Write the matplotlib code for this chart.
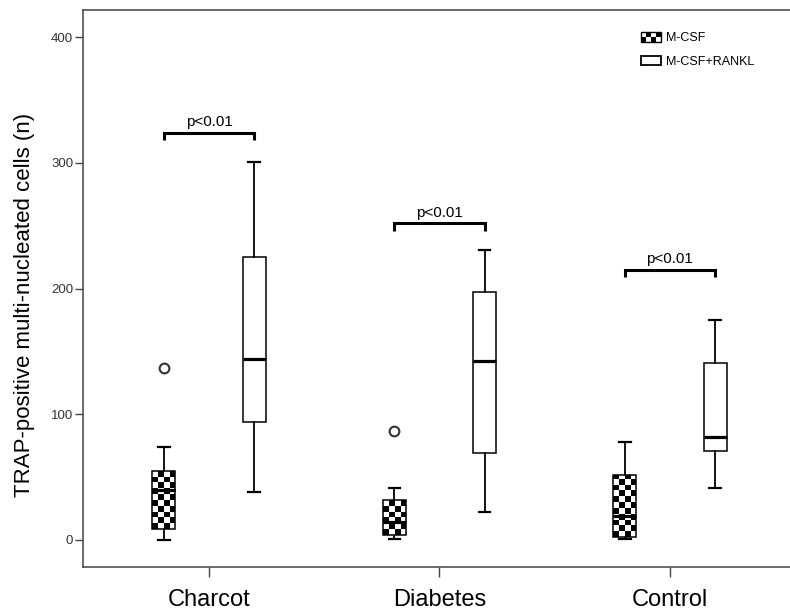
import numpy as np
import matplotlib.pyplot as plt
from matplotlib.patches import Rectangle
from matplotlib.legend_handler import HandlerBase

plt.rcParams['font.family'] = ['Liberation Sans', 'DejaVu Sans']

groups = ['Charcot', 'Diabetes', 'Control']

# M-CSF: whisker low, Q1, median, Q3, whisker high, outliers
mcsf_whislo = [0, 1, 1]
mcsf_q1 = [9, 4, 2]
mcsf_med = [40, 14, 19]
mcsf_q3 = [55, 32, 52]
mcsf_whishi = [74, 41, 78]
mcsf_fliers = [[137], [87], []]

# M-CSF+RANKL
rankl_whislo = [38, 22, 41]
rankl_q1 = [94, 69, 71]
rankl_med = [144, 142, 82]
rankl_q3 = [225, 197, 141]
rankl_whishi = [301, 231, 175]
rankl_fliers = [[], [], []]

bracket_y = [324, 252, 215]
p_text = ['p<0.01', 'p<0.01', 'p<0.01']

offset = 0.196
box_w = 0.1


def make_stats(lo, q1, med, q3, hi, fl):
    return [dict(whislo=a, q1=b, med=c, q3=d, whishi=e, fliers=f)
            for a, b, c, d, e, f in zip(lo, q1, med, q3, hi, fl)]


fig = plt.figure(figsize=(7.9, 6.14), dpi=100)
ax = fig.add_axes([83 / 790, 47 / 614, 713 / 790, 557 / 614])
ax.set_xlim(-0.547, 2.547)
ax.set_ylim(-21.5, 421.5)

x = np.arange(len(groups))
common = dict(widths=box_w, patch_artist=True, showfliers=True,
              boxprops=dict(edgecolor='black', linewidth=1.1),
              whiskerprops=dict(color='black', linewidth=1.3),
              capprops=dict(color='black', linewidth=1.6),
              medianprops=dict(color='black', linewidth=2.3),
              flierprops=dict(marker='o', markersize=7, markerfacecolor='white',
                              markeredgecolor='#333333', markeredgewidth=1.5))

b1 = ax.bxp(make_stats(mcsf_whislo, mcsf_q1, mcsf_med, mcsf_q3, mcsf_whishi, mcsf_fliers),
            positions=x - offset, **common)
b2 = ax.bxp(make_stats(rankl_whislo, rankl_q1, rankl_med, rankl_q3, rankl_whishi, rankl_fliers),
            positions=x + offset, **common)
for c in b1['caps'] + b2['caps']:
    xd = c.get_xdata()
    mid = (xd[0] + xd[1]) / 2
    c.set_xdata([mid - box_w / 4, mid + box_w / 4])

for p in b2['boxes']:
    p.set_facecolor('white')

# checkerboard fill for the M-CSF boxes
px_x = ax.transData.transform((1, 0))[0] - ax.transData.transform((0, 0))[0]
px_y = ax.transData.transform((0, 1))[1] - ax.transData.transform((0, 0))[1]
sq_x = box_w / 4
sq_y = sq_x * px_x / px_y
for p, pos, q1, q3 in zip(b1['boxes'], x - offset, mcsf_q1, mcsf_q3):
    p.set_facecolor('none')
    p.set_zorder(3)
    nrows = int(np.ceil((q3 - q1) / sq_y))
    board = (np.add.outer(np.arange(nrows), np.arange(4)) % 2).astype(float)
    im = ax.imshow(board, cmap='gray', vmin=0, vmax=1, interpolation='nearest',
                   origin='lower', aspect='auto', zorder=2,
                   extent=(pos - box_w / 2, pos + box_w / 2, q1, q1 + nrows * sq_y))
    im.set_clip_path(p)
for m in b1['medians']:
    m.set_zorder(4)

# significance brackets
for xi, yb, t in zip(x, bracket_y, p_text):
    ax.plot([xi - offset, xi - offset, xi + offset, xi + offset],
            [yb - 6, yb, yb, yb - 6], color='black', lw=2.2,
            solid_joinstyle='miter', solid_capstyle='butt')
    ax.text(xi, yb + 2.5, t, ha='center', va='bottom', fontsize=11)

ax.set_aspect('auto')
ax.set_xlim(-0.547, 2.547)
ax.set_ylim(-21.5, 421.5)
ax.set_xticks(x)
ax.set_xticklabels(groups, fontsize=17)
ax.set_yticks([0, 100, 200, 300, 400])
ax.tick_params(axis='y', length=6, width=1, color='#444444', labelsize=9.5,
               labelcolor='#333333', pad=1)
ax.tick_params(axis='x', length=7, width=1, color='#444444', pad=9)
for s in ['left', 'bottom', 'top']:
    ax.spines[s].set_color('#444444')
    ax.spines[s].set_linewidth(1.1)
ax.spines['right'].set_visible(False)
ax.set_ylabel('TRAP-positive multi-nucleated cells (n)', fontsize=16)
ax.yaxis.set_label_coords(-0.068, 0.47)


class CheckerHandle:
    pass


class CheckerHandler(HandlerBase):
    def create_artists(self, legend, orig_handle, xdescent, ydescent,
                       width, height, fontsize, trans):
        arts = [Rectangle((-xdescent, -ydescent), width, height, facecolor='white',
                          edgecolor='black', lw=1, transform=trans)]
        cols, rows = 4, 2
        w, h = width / cols, height / rows
        for i in range(rows):
            for j in range(cols):
                if (i + j) % 2 == 0:
                    arts.append(Rectangle((-xdescent + j * w, -ydescent + i * h), w, h,
                                          facecolor='black', lw=0, transform=trans))
        return arts


handles = [CheckerHandle(), Rectangle((0, 0), 1, 1, facecolor='white', edgecolor='black', lw=1.3)]
ax.legend(handles, ['M-CSF', 'M-CSF+RANKL'], handler_map={CheckerHandle: CheckerHandler()},
          loc='upper right', bbox_to_anchor=(0.957, 0.98), frameon=False, fontsize=9,
          handlelength=1.6, handleheight=0.75, handletextpad=0.4, labelspacing=0.9)

fig.savefig('out.png', dpi=100)
